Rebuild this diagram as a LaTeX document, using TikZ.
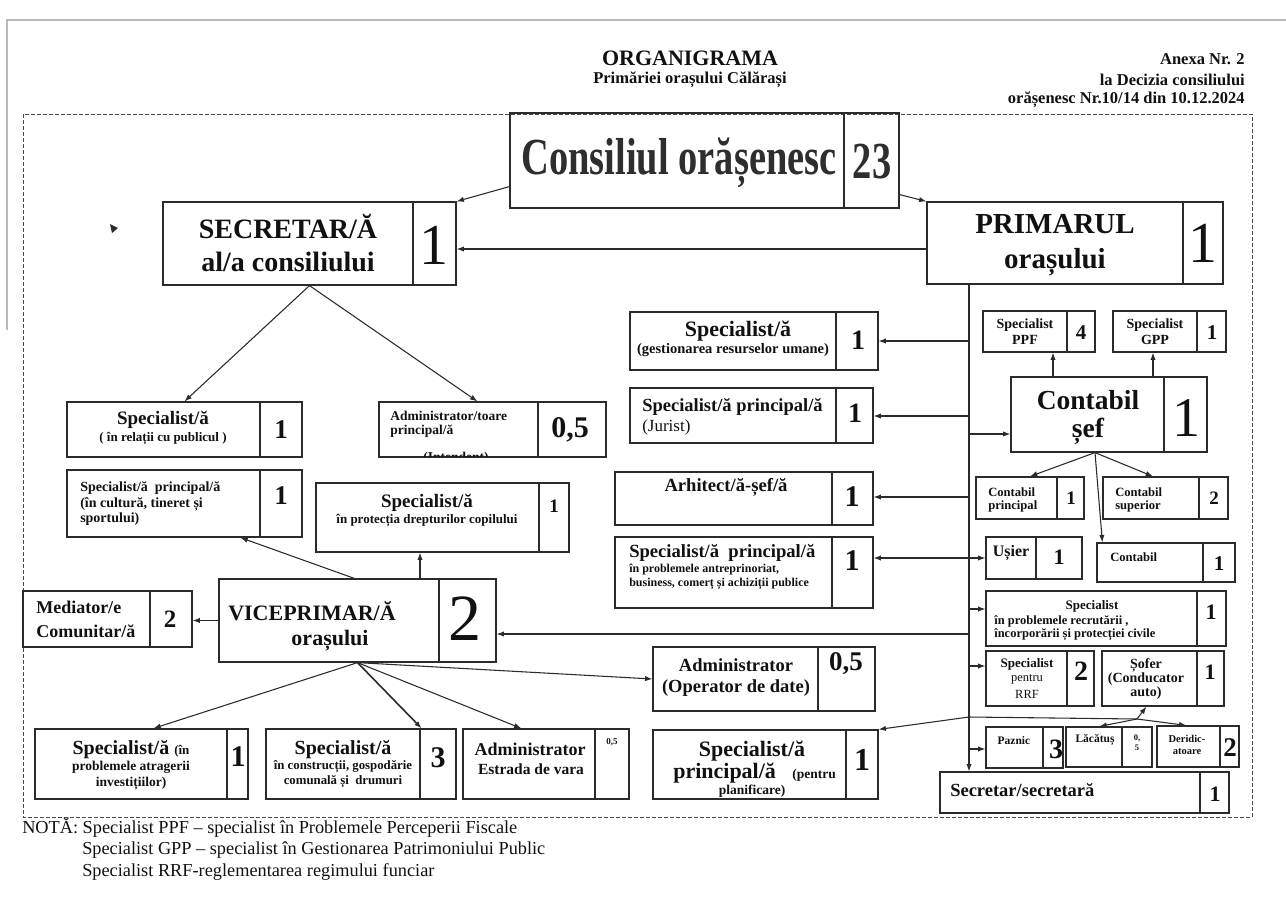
\documentclass[tikz,border=0pt]{standalone}
\usepackage{fontspec}
\setmainfont{Liberation Serif}
\usetikzlibrary{arrows.meta,calc,fit}
\newcommand\fpx[1]{\fontsize{\fpeval{0.75*(#1)}pt}{\fpeval{0.92*(#1)}pt}\selectfont}
\definecolor{linec}{HTML}{2B2B2B}
\definecolor{txtc}{HTML}{111111}
\newcommand\obox[6]{\node[obx, fit={(#2,#3)(#4,#5)}] (#1) {};\draw[divl] (#6,#3) -- (#6,#5);}
\begin{document}
\begin{tikzpicture}[x=0.75pt,y=-0.75pt,
  obx/.style={draw=linec,line width=0.9pt,inner sep=0pt},
  divl/.style={draw=linec,line width=0.9pt},
  arr/.style={draw=linec,line width=0.8pt,-{Latex[length=5.5pt,width=4pt]}},
  ln/.style={draw=linec,line width=0.8pt},
  t/.style={inner sep=0pt,text=txtc},
  frm/.style={draw=black!70,line width=0.6pt,dash pattern=on 3pt off 1.5pt}]
\useasboundingbox[fill=white] (0,0) rectangle (1286,908);
% page edge and frame
\draw[gray!55,line width=0.8pt] (7,330) -- (7,20) -- (1286,20);
\draw[frm] (23,114) rectangle (1252,817);
% header
\node[t,font=\fpx{22}\bfseries] (hd1) at (690,58) {ORGANIGRAMA};
\node[t,font=\fpx{16.5}\bfseries] (hd2) at (690,80) {Primăriei orașului Călărași};
\node[t,font=\fpx{16.5}\bfseries,anchor=east] (hd3) at (1245,59) {Anexa Nr. 2};
\node[t,font=\fpx{16.5}\bfseries,anchor=east] (hd4) at (1245,80) {la Decizia consiliului};
\node[t,font=\fpx{16.5}\bfseries,anchor=east] (hd5) at (1245,100) {orășenesc Nr.10/14 din 10.12.2024};
% stray mark
\fill[linec] (110,224) -- (118,228) -- (112,233) -- cycle;
% Consiliul
\obox{cons}{510}{113}{899}{208}{844}
\node[t,text=black!82] (cons-t) at (679,163) {\fpx{52}\bfseries\scalebox{0.74}[1]{Consiliul orășenesc}};
\node[t,text=black!82] (cons-n) at (872,162) {\fpx{52}\bfseries\scalebox{0.74}[1]{23}};
% SECRETAR
\obox{secr}{163}{202}{456}{285}{413}
\node[t,font=\fpx{28}\bfseries] (secr-a) at (288,226) {SECRETAR/Ă};
\node[t,font=\fpx{28}\bfseries] (secr-b) at (288,262) {al/a consiliului};
\node[t,font=\fpx{58}] (secr-n) at (434,245) {1};
% PRIMARUL
\obox{prim}{927}{202}{1223}{284}{1183}
\node[t,font=\fpx{29}\bfseries] (prim-a) at (1055,224) {PRIMARUL};
\node[t,font=\fpx{29}\bfseries] (prim-b) at (1055,262) {orașului};
\node[t,font=\fpx{58}] (prim-n) at (1203,243) {1};
% Specialist relatii
\obox{spr}{67}{402}{302}{457}{260}
\node[t,font=\fpx{19}\bfseries] (spr-a) at (163,420) {Specialist/ă};
\node[t,font=\fpx{13}\bfseries] (spr-b) at (163,439) {( în relații cu publicul )};
\node[t,font=\fpx{27}\bfseries] (spr-n) at (281,430) {1};
% Administrator/toare
\obox{adm}{379}{402}{606}{457}{538}
\node[t,font=\fpx{13.5}\bfseries,anchor=west] (adm-a) at (390,416) {Administrator/toare};
\node[t,font=\fpx{13.5}\bfseries,anchor=west] (adm-b) at (390,431) {principal/ă};
\begin{scope}
\clip (379,402) rectangle (606,456);
\node[t,font=\fpx{13.5}\bfseries,anchor=base] (adm-c) at (456,461) {(Intendent)};
\end{scope}
\node[t,font=\fpx{30}\bfseries] (adm-n) at (570,430) {0,5};
% cultura
\obox{cul}{67}{470}{302}{537}{260}
\node[t,font=\fpx{14}\bfseries,anchor=west] (cul-a) at (80,488) {Specialist/ă~ principal/ă};
\node[t,font=\fpx{14}\bfseries,anchor=west] (cul-b) at (80,504) {(în cultură, tineret și};
\node[t,font=\fpx{14}\bfseries,anchor=west] (cul-c) at (80,519) {sportului)};
\node[t,font=\fpx{27}\bfseries] (cul-n) at (281,496) {1};
% protectia
\obox{prot}{316}{483}{569}{552}{539}
\node[t,font=\fpx{19}\bfseries] (prot-a) at (427,503) {Specialist/ă};
\node[t,font=\fpx{13}\bfseries] (prot-b) at (427,521) {în protecția drepturilor copilului};
\node[t,font=\fpx{19}\bfseries] (prot-n) at (554,506) {1};
% VICEPRIMAR
\obox{vice}{219}{579}{496}{662}{439}
\node[t,font=\fpx{22}\bfseries] (vice-a) at (312,611) {VICEPRIMAR/Ă};
\node[t,font=\fpx{22}\bfseries] (vice-b) at (330,641) {orașului};
\node[t,font=\fpx{66}] (vice-n) at (465,619) {2};
% Mediator
\obox{med}{23}{591}{192}{647}{150}
\node[t,font=\fpx{18}\bfseries,anchor=west] (med-a) at (36,607) {Mediator/e};
\node[t,font=\fpx{18}\bfseries,anchor=west] (med-b) at (36,631) {Comunitar/ă};
\node[t,font=\fpx{25}\bfseries] (med-n) at (170,619) {2};
% atragerii
\obox{atr}{35}{729}{248}{799}{227}
\node[t,font=\bfseries] (atr-a) at (131,750) {\fpx{20}Specialist/ă {\fpx{13}(în}};
\node[t,font=\fpx{13.5}\bfseries] (atr-b) at (131,767) {problemele atragerii};
\node[t,font=\fpx{13.5}\bfseries] (atr-c) at (131,784) {investițiilor)};
\node[t,font=\fpx{30}\bfseries] (atr-n) at (238,757) {1};
% constructii
\obox{con}{266}{729}{456}{799}{420}
\node[t,font=\fpx{20}\bfseries] (con-a) at (343,750) {Specialist/ă};
\node[t,font=\fpx{12.8}\bfseries] (con-b) at (343,767) {în construcții, gospodărie};
\node[t,font=\fpx{12.8}\bfseries] (con-c) at (343,782) {comunală și~ drumuri};
\node[t,font=\fpx{30}\bfseries] (con-n) at (438,758) {3};
% Estrada
\obox{est}{463}{729}{629}{799}{595}
\node[t,font=\fpx{18}\bfseries] (est-a) at (530,749) {Administrator};
\node[t,font=\fpx{15.5}\bfseries] (est-b) at (531,769) {Estrada de vara};
\node[t,font=\fpx{9}\bfseries] (est-n) at (612,742) {0,5};
% Operator
\obox{oper}{653}{647}{875}{711}{818}
\node[t,font=\fpx{18.5}\bfseries] (oper-a) at (736,665) {Administrator};
\node[t,font=\fpx{18.5}\bfseries] (oper-b) at (736,688) {(Operator de date)};
\node[t,font=\fpx{27}\bfseries] (oper-n) at (846,664) {0,5};
% planificare
\obox{plan}{653}{730}{878}{799}{846}
\node[t,font=\fpx{22}\bfseries] (plan-a) at (752,751) {Specialist/ă};
\node[t,font=\bfseries,anchor=west] (plan-b) at (673,773) {\fpx{22}principal/ă~~ {\fpx{13.5}(pentru}};
\node[t,font=\fpx{13.5}\bfseries] (plan-c) at (752,791) {planificare)};
\node[t,font=\fpx{32}\bfseries] (plan-n) at (862,760) {1};
% gestionarea
\obox{gest}{630}{312}{878}{370}{836}
\node[t,font=\fpx{22}\bfseries] (gest-a) at (738,331) {Specialist/ă};
\node[t,font=\fpx{14.5}\bfseries] (gest-b) at (733,350) {(gestionarea resurselor umane)};
\node[t,font=\fpx{28}\bfseries] (gest-n) at (858,340) {1};
% jurist
\obox{jur}{630}{388}{873}{443}{836}
\node[t,font=\fpx{18.5}\bfseries,anchor=west] (jur-a) at (642,407) {Specialist/ă principal/ă};
\node[t,font=\fpx{17},anchor=west] (jur-b) at (642,427) {(Jurist)};
\node[t,font=\fpx{28}\bfseries] (jur-n) at (855,413) {1};
% arhitect
\obox{arh}{615}{472}{873}{525}{832}
\node[t,font=\fpx{18.6}\bfseries] (arh-a) at (726,487) {Arhitect/ă-șef/ă};
\node[t,font=\fpx{30}\bfseries] (arh-n) at (852,497) {1};
% antreprinoriat
\obox{ant}{615}{537}{873}{608}{832}
\node[t,font=\fpx{18.6}\bfseries,anchor=west] (ant-a) at (629,553) {Specialist/ă~ principal/ă};
\node[t,font=\fpx{12}\bfseries,anchor=west] (ant-b) at (629,570) {în problemele antreprinoriat,};
\node[t,font=\fpx{12}\bfseries,anchor=west] (ant-c) at (629,584) {business, comerț și achiziții publice};
\node[t,font=\fpx{30}\bfseries] (ant-n) at (852,561) {1};
% PPF, GPP
\obox{ppf}{983}{311}{1095}{352}{1067}
\node[t,font=\fpx{14}\bfseries] (ppf-a) at (1025,325) {Specialist};
\node[t,font=\fpx{14}\bfseries] (ppf-b) at (1025,340) {PPF};
\node[t,font=\fpx{21}\bfseries] (ppf-n) at (1081,333) {4};
\obox{gpp}{1113}{311}{1226}{352}{1197}
\node[t,font=\fpx{14}\bfseries] (gpp-a) at (1155,325) {Specialist};
\node[t,font=\fpx{14}\bfseries] (gpp-b) at (1155,340) {GPP};
\node[t,font=\fpx{21}\bfseries] (gpp-n) at (1212,333) {1};
% Contabil sef
\obox{cs}{1011}{377}{1207}{452}{1164}
\node[t,font=\fpx{27.5}\bfseries] (cs-a) at (1088,400) {Contabil};
\node[t,font=\fpx{27.5}\bfseries] (cs-b) at (1088,431) {șef};
\node[t,font=\fpx{56}] (cs-n) at (1186,418) {1};
% Contabil principal / superior
\obox{cpr}{976}{477}{1084}{519}{1057}
\node[t,font=\fpx{12.6}\bfseries,anchor=west] (cpr-a) at (988,492) {Contabil};
\node[t,font=\fpx{12.6}\bfseries,anchor=west] (cpr-b) at (988,506) {principal};
\node[t,font=\fpx{19}\bfseries] (cpr-n) at (1071,498) {1};
\obox{csu}{1103}{477}{1228}{519}{1199}
\node[t,font=\fpx{12.6}\bfseries,anchor=west] (csu-a) at (1115,492) {Contabil};
\node[t,font=\fpx{12.6}\bfseries,anchor=west] (csu-b) at (1115,506) {superior};
\node[t,font=\fpx{19}\bfseries] (csu-n) at (1214,498) {2};
% Usier, Contabil
\obox{usi}{986}{537}{1082}{579}{1036}
\node[t,font=\fpx{16}\bfseries] (usi-a) at (1011,553) {Ușier};
\node[t,font=\fpx{22}\bfseries] (usi-n) at (1059,557) {1};
\obox{cont}{1097}{543}{1235}{582}{1203}
\node[t,font=\fpx{12.6}\bfseries,anchor=west] (cont-a) at (1110,557) {Contabil};
\node[t,font=\fpx{21}\bfseries] (cont-n) at (1219,564) {1};
% recrutarii
\obox{recr}{986}{591}{1226}{646}{1197}
\node[t,font=\fpx{13}\bfseries] (recr-a) at (1092,606) {Specialist};
\node[t,font=\fpx{12.5}\bfseries,anchor=west] (recr-b) at (994,621) {în problemele recrutării ,};
\node[t,font=\fpx{12.5}\bfseries,anchor=west] (recr-c) at (994,635) {încorporării și protecției civile};
\node[t,font=\fpx{22}\bfseries] (recr-n) at (1211,612) {1};
% RRF, Sofer
\obox{rrf}{986}{651}{1094}{706}{1067}
\node[t,font=\fpx{13}\bfseries] (rrf-a) at (1027,664) {Specialist};
\node[t,font=\fpx{12.5}] (rrf-b) at (1027,679) {pentru};
\node[t,font=\fpx{12.5}] (rrf-c) at (1027,694) {RRF};
\node[t,font=\fpx{28}\bfseries] (rrf-n) at (1081,671) {2};
\obox{sof}{1102}{651}{1224}{706}{1197}
\node[t,font=\fpx{14}\bfseries] (sof-a) at (1146,665) {Șofer};
\node[t,font=\fpx{14}\bfseries] (sof-b) at (1146,679) {(Conducator};
\node[t,font=\fpx{14}\bfseries] (sof-c) at (1146,693) {auto)};
\node[t,font=\fpx{22}\bfseries] (sof-n) at (1210,672) {1};
% Paznic, Lacatus, Deridicatoare
\obox{paz}{986}{727}{1063}{768}{1043}
\node[t,font=\fpx{11.5}\bfseries] (paz-a) at (1014,741) {Paznic};
\node[t,font=\fpx{28}\bfseries] (paz-n) at (1056,749) {3};
\obox{lac}{1066}{727}{1152}{767}{1122}
\node[t,font=\fpx{11.5}\bfseries] (lac-a) at (1095,740) {Lăcătuș};
\node[t,font=\fpx{8.5}\bfseries] (lac-n) at (1137,738) {0,};
\node[t,font=\fpx{8.5}\bfseries] (lac-m) at (1137,748) {5};
\obox{der}{1157}{726}{1239}{767}{1220}
\node[t,font=\fpx{10.5}\bfseries] (der-a) at (1187,739) {Deridic-};
\node[t,font=\fpx{10.5}\bfseries] (der-b) at (1187,752) {atoare};
\node[t,font=\fpx{27}\bfseries] (der-n) at (1230,748) {2};
% Secretar/secretara
\obox{secs}{940}{772}{1229}{813}{1200}
\node[t,font=\fpx{18.5}\bfseries,anchor=west] (secs-a) at (950,790) {Secretar/secretară};
\node[t,font=\fpx{22}\bfseries] (secs-n) at (1215,794) {1};
% ---------- connectors ----------
\draw[arr] ($(cons.south west)+(0,-22)$) -- (secr.north east);
\draw[arr] ($(cons.south east)+(0,-14)$) -- (prim.north west);
\coordinate (pw) at ($(prim.west)+(0,6)$);
\draw[arr] (pw) -- (pw -| secr.east);
\draw[arr] (secr.south) -- (spr.north);
\draw[arr] (secr.south) -- ($(adm.north west)+(99,0)$);
% trunk
\coordinate (tx) at (969,0);
\draw[arr] (prim.south -| tx) -- (secs.north -| tx);
\coordinate (tg) at (969,341);
\coordinate (tj) at (969,416);
\coordinate (tc) at (969,434);
\coordinate (ta) at (969,497);
\coordinate (tn) at (969,558);
\coordinate (tr) at (969,609);
\coordinate (tv) at (969,634);
\coordinate (tf) at (969,666);
\coordinate (tp) at (969,717);
\coordinate (tz) at (969,749);
\draw[arr] (tg) -- (tg -| gest.east);
\draw[arr] (tj) -- (tj -| jur.east);
\draw[arr] (tc) -- (tc -| cs.west);
\draw[arr] (ta) -- (ta -| arh.east);
\draw[arr] (tn) -- (tn -| ant.east);
\draw[arr] (tn) -- (tn -| usi.west);
\draw[arr] (tr) -- (tr -| recr.west);
\draw[arr] (tv) -- (tv -| vice.east);
\draw[arr] (tf) -- (tf -| rrf.west);
\draw[arr] (tz) -- (tz -| paz.west);
\draw[arr] (tp) -- (plan.north east);
\coordinate (br) at (1137,719);
\draw[ln] (tp) -- (br);
\draw[arr] (br) -- ($(sof.south west)+(45,0)$);
\draw[arr] (br) -- ($(lac.north west)+(34,0)$);
\draw[arr] (br) -- ($(der.north west)+(30,0)$);
% Contabil sef
\coordinate (xa) at (1053,0);
\coordinate (xb) at (1153,0);
\coordinate (xk) at (1095,0);
\draw[arr] (cs.north -| xa) -- (ppf.south -| xa);
\draw[arr] (cs.north -| xb) -- (gpp.south -| xb);
\coordinate (csb) at (cs.south -| xk);
\draw[arr] (csb) -- (cpr.north);
\draw[arr] (csb) -- (csu.north -| xb);
\draw[arr] (csb) -- ($(cont.north west)+(6,0)$);
% VICEPRIMAR
\draw[arr] (vice.west) -- (vice.west -| med.east);
\draw[arr] ($(vice.north west)+(136,0)$) -- ($(cul.south west)+(174,0)$);
\coordinate (xc) at (420,0);
\draw[arr] (vice.north -| xc) -- (prot.south -| xc);
\draw[arr] (vice.south) -- ($(atr.north west)+(119,0)$);
\draw[arr,line width=1.2pt] (vice.south) -- ($(con.north east)+(-35,0)$);
\draw[arr] (vice.south) -- ($(est.north west)+(59,0)$);
\draw[arr] (vice.south) -- (oper.west);
% note
\node[t,font=\fpx{18.3},anchor=west] (nt1) at (22,828) {NOTĂ: Specialist PPF – specialist în Problemele Perceperii Fiscale};
\node[t,font=\fpx{18.3},anchor=west] (nt2) at (82,850) {Specialist GPP – specialist în Gestionarea Patrimoniului Public};
\node[t,font=\fpx{18.3},anchor=west] (nt3) at (82,872) {Specialist RRF-reglementarea regimului funciar};
\end{tikzpicture}
\end{document}
